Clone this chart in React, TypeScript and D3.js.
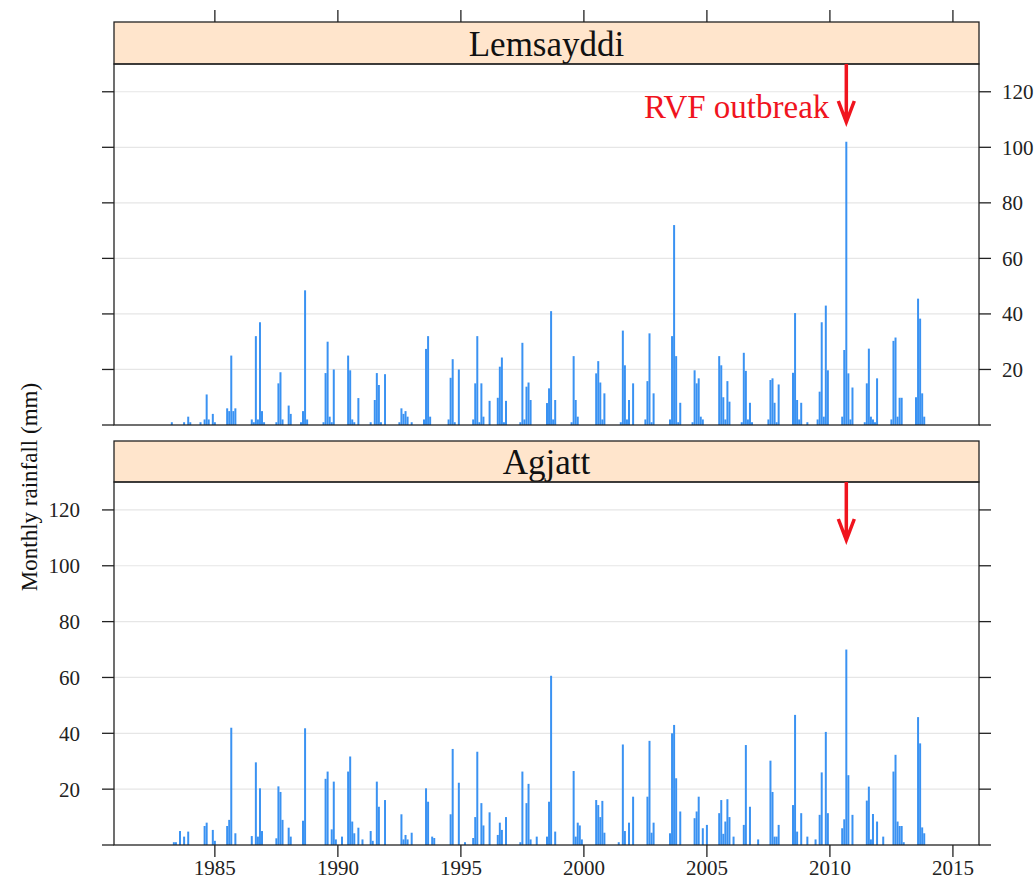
import React, { useEffect, useRef } from "react";
import * as d3 from "d3";

// monthly rainfall (mm), one row per year from 1983, Jan..Dec
const firstYear = 1983;

const lemsayddi: number[][] = [
  [0, 0, 0, 1, 0, 0, 0, 0, 0, 1, 0, 3],
  [1, 0, 0, 0, 0, 1, 0, 2, 11, 2, 0, 4],
  [1, 0, 0, 0, 0, 0, 6, 5, 25, 5, 6, 0],
  [0, 0, 0, 0, 0, 0, 2, 1, 32, 2, 37, 5],
  [1, 0, 0, 0, 0, 0, 1, 15, 19, 2, 0, 0],
  [7, 4, 0, 0, 0, 0, 1, 5, 48.5, 2, 0, 0],
  [0, 0, 0, 0, 0, 1, 18.7, 30, 3, 1, 20, 0],
  [0, 0, 0, 0, 0, 25, 19.7, 2, 1, 0, 9.7, 0],
  [0, 0, 0, 0, 1, 0, 9, 18.7, 14.4, 1, 0, 18.3],
  [0, 0, 0, 0, 0, 0, 1, 6, 4, 5, 3, 0],
  [1, 0, 0, 0, 0, 0, 2, 27.4, 32, 3, 0, 0],
  [0, 0, 0, 0, 0, 0, 2, 17, 23.7, 1, 0, 20],
  [0, 0, 0, 0, 0, 0, 2, 15, 32, 1, 15, 3],
  [0, 0, 8.7, 0, 0, 0, 9.8, 21, 24.3, 1, 8.7, 0],
  [0, 0, 0, 0, 0, 1, 29.6, 2, 13.8, 15.3, 9, 0],
  [0, 0, 0, 0, 0, 0, 7.9, 13.2, 41, 2, 9, 0],
  [0, 0, 0, 0, 0, 0, 1, 24.8, 9, 3, 0, 0],
  [0, 0, 0, 0, 0, 0, 18.6, 23, 15.3, 2, 11.4, 0],
  [0, 0, 0, 0, 0, 0, 1, 34, 21.5, 2, 9, 0],
  [15, 0, 0, 0, 0, 0, 2, 15.8, 33, 1, 11.4, 0],
  [0, 0, 0, 0, 0, 0, 2, 32, 72, 24.8, 1, 8],
  [0, 0, 0, 0, 0, 1, 19.7, 15, 16.8, 3, 2, 0],
  [0, 0, 0, 0, 0, 0, 24.8, 21.5, 10, 2, 15.8, 8.4],
  [0, 0, 0, 0, 0, 1, 26, 19.5, 2, 8, 1, 0],
  [0, 0, 0, 0, 0, 0, 2, 16.2, 16.8, 8, 1, 14.6],
  [0, 0, 0, 0, 0, 0, 18.8, 40.3, 9, 2, 8, 0],
  [0, 1, 0, 0, 0, 0, 2, 12, 37, 3, 43, 19.7],
  [0, 0, 0, 0, 0, 0, 3, 27, 102, 18.6, 2, 13.5],
  [0, 0, 0, 0, 0, 1, 15, 27.5, 3, 2, 1, 16.8],
  [0, 0, 0, 0, 0, 0, 2, 30.3, 31.5, 3, 9.8, 9.8],
  [0, 0, 0, 0, 0, 0, 10, 45.5, 38.3, 11.4, 3, 0],
];

const agjatt: number[][] = [
  [0, 0, 0, 0, 1, 1, 0, 5, 0, 3, 0, 4.8],
  [0, 0, 0, 0, 0, 0, 0, 6.8, 8, 0, 0, 5.4],
  [1.5, 0, 0, 0, 0, 0, 6.8, 9, 42, 0, 4.2, 0],
  [0, 0, 0, 0, 0, 0, 3.2, 0, 29.6, 3, 20.3, 5],
  [0, 0, 0, 0, 0, 0, 2.4, 21, 19, 9, 0, 0],
  [6.2, 3, 0, 0, 0, 0, 0, 8.7, 41.8, 0, 0, 0],
  [0, 0, 0, 0, 0, 0, 23.7, 26.3, 0, 5.6, 22.7, 2],
  [0, 0, 3, 0, 0, 26.3, 31.7, 8.4, 4.2, 0, 6.2, 0],
  [2, 0, 0, 0, 5, 1.5, 0, 22.7, 13.7, 0, 0, 16.1],
  [0, 0, 0, 0, 0, 0, 0, 11, 2, 3.6, 2, 0],
  [4.4, 0, 0, 0, 0, 0, 0, 20.3, 15.5, 0, 3, 2.5],
  [0, 0, 0, 0, 0, 0, 0, 11, 34.4, 0, 0, 22.3],
  [0, 0, 1, 0, 0, 0, 2.5, 10, 33.4, 0, 15, 7],
  [0, 0, 11.7, 0, 0, 0, 3.6, 8, 5.4, 0, 10, 0],
  [0, 0, 0, 0, 0, 1, 26.3, 0, 15, 21.9, 2, 0],
  [0, 3, 0, 0, 0, 0, 3, 15.5, 60.6, 0, 4.8, 0],
  [0, 0, 0, 0, 0, 0, 0, 26.5, 3, 8, 7, 2],
  [0, 0, 0, 0, 0, 0, 16.1, 14.3, 10, 15.8, 4.4, 0],
  [0, 0, 0, 0, 0, 1, 0, 36, 5, 0, 8, 0],
  [17.3, 0, 0, 0, 0, 0, 0, 17.3, 37.3, 4.4, 8, 0],
  [0, 0, 0, 0, 0, 0, 4.2, 40, 43, 23.9, 0, 12],
  [0, 0, 0, 0, 0, 0, 9.6, 12, 17.3, 0, 6, 0],
  [7.2, 0, 0, 0, 0, 0, 11.4, 16.1, 4, 8.4, 16.4, 10],
  [0, 3, 0, 0, 0, 0, 7.2, 35.8, 0, 13.7, 0, 0],
  [0, 2, 0, 0, 0, 0, 0, 30.2, 19, 3, 3, 7.2],
  [0, 0, 0, 0, 0, 0, 14.3, 46.6, 4.8, 0, 11.4, 0],
  [0, 3, 0, 0, 0, 2, 0, 10.8, 26, 0, 40.5, 11.4],
  [0, 0, 0, 0, 0, 0, 6, 9.2, 70, 25, 0, 10.8],
  [0, 0, 0, 0, 0, 0, 15.9, 20.9, 2, 11.1, 0, 8.4],
  [0, 0, 3, 0, 0, 0, 0, 26.3, 32.3, 8.4, 6.8, 6.8],
  [1, 0, 0, 0, 0, 0, 0, 45.8, 36.4, 6.3, 4.2, 0],
];

const stationNames = ["Lemsayddi", "Agjatt"];
const yTicks = [0, 20, 40, 60, 80, 100, 120];
const xTicks = [1985, 1990, 1995, 2000, 2005, 2010, 2015];
const outbreakDate = 2010 + 8 / 12; // Sep 2010
const outbreakLabel = "RVF outbreak";

const font = "'Liberation Serif', 'Times New Roman', serif";

const App = () => {
  const svgRef = useRef<SVGSVGElement>(null);

  useEffect(() => {
    const width = 1036;
    const height = 890;
    const left = 114;
    const right = 979;
    const tick = 12;

    const panels = [
      { name: stationNames[0], data: lemsayddi, stripTop: 22, top: 64, bottom: 425, labelLeft: false },
      { name: stationNames[1], data: agjatt, stripTop: 441, top: 482, bottom: 845, labelLeft: true },
    ];

    const x = d3.scaleLinear().domain([1980.9, 2016.06]).range([left, right]);

    const svg = d3
      .select(svgRef.current)
      .attr("width", width)
      .attr("height", height)
      .attr("viewBox", [0, 0, width, height].join(" "))
      .style("font-family", font);

    svg.selectAll("*").remove();

    panels.forEach((p, pi) => {
      const y = d3.scaleLinear().domain([0, 130]).range([p.bottom, p.top]);
      const g = svg.append("g");

      // strip
      g.append("rect")
        .attr("x", left)
        .attr("y", p.stripTop)
        .attr("width", right - left)
        .attr("height", p.top - p.stripTop)
        .attr("fill", "#ffe5cc")
        .attr("stroke", "#222")
        .attr("stroke-width", 1.3);
      g.append("text")
        .attr("x", (left + right) / 2)
        .attr("y", p.top - 8)
        .attr("text-anchor", "middle")
        .attr("font-size", 35)
        .attr("fill", "#111")
        .text(p.name);

      // grid
      g.append("g")
        .selectAll("line")
        .data(yTicks.filter((d) => d > 0))
        .join("line")
        .attr("x1", left)
        .attr("x2", right)
        .attr("y1", (d) => y(d))
        .attr("y2", (d) => y(d))
        .attr("stroke", "#e6e6e6")
        .attr("stroke-width", 1.2);

      // bars
      const points = p.data.flatMap((row, i) =>
        row.map((v, m) => ({ t: firstYear + i + m / 12, v }))
      ).filter((d) => d.v > 0);
      g.append("g")
        .selectAll("line")
        .data(points)
        .join("line")
        .attr("x1", (d) => x(d.t))
        .attr("x2", (d) => x(d.t))
        .attr("y1", y(0))
        .attr("y2", (d) => y(d.v))
        .attr("stroke", "#3a92f2")
        .attr("stroke-width", 2);

      // frame
      g.append("rect")
        .attr("x", left)
        .attr("y", p.top)
        .attr("width", right - left)
        .attr("height", p.bottom - p.top)
        .attr("fill", "none")
        .attr("stroke", "#222")
        .attr("stroke-width", 1.3);

      // y ticks both sides
      const yt = g.append("g").attr("stroke", "#222").attr("stroke-width", 1.3);
      yTicks.forEach((d) => {
        yt.append("line").attr("x1", left - tick).attr("x2", left).attr("y1", y(d)).attr("y2", y(d));
        yt.append("line").attr("x1", right).attr("x2", right + tick).attr("y1", y(d)).attr("y2", y(d));
      });
      g.append("g")
        .selectAll("text")
        .data(yTicks.filter((d) => d > 0))
        .join("text")
        .attr("x", p.labelLeft ? left - tick - 22 : right + tick + 11)
        .attr("y", (d) => y(d))
        .attr("dy", "0.35em")
        .attr("text-anchor", p.labelLeft ? "end" : "start")
        .attr("font-size", 21)
        .attr("fill", "#222")
        .text((d) => d);

      // x ticks: top of first strip, bottom of last panel
      if (pi === 0) {
        g.append("g")
          .selectAll("line")
          .data(xTicks)
          .join("line")
          .attr("x1", (d) => x(d))
          .attr("x2", (d) => x(d))
          .attr("y1", p.stripTop - tick)
          .attr("y2", p.stripTop)
          .attr("stroke", "#222")
          .attr("stroke-width", 1.3);
      } else {
        g.append("g")
          .selectAll("line")
          .data(xTicks)
          .join("line")
          .attr("x1", (d) => x(d))
          .attr("x2", (d) => x(d))
          .attr("y1", p.bottom)
          .attr("y2", p.bottom + tick)
          .attr("stroke", "#222")
          .attr("stroke-width", 1.3);
        g.append("g")
          .selectAll("text")
          .data(xTicks)
          .join("text")
          .attr("x", (d) => x(d))
          .attr("y", p.bottom + tick + 18)
          .attr("text-anchor", "middle")
          .attr("font-size", 21)
          .attr("fill", "#222")
          .text((d) => d);
      }

      // outbreak arrow
      const ax = x(outbreakDate);
      const tip = p.top + 58;
      g.append("path")
        .attr("d", `M${ax},${p.top}V${tip}M${ax - 8},${tip - 21}L${ax},${tip}L${ax + 8},${tip - 21}`)
        .attr("fill", "none")
        .attr("stroke", "#f0141e")
        .attr("stroke-width", 3.5);
      if (pi === 0) {
        g.append("text")
          .attr("x", ax - 17)
          .attr("y", p.top + 54)
          .attr("text-anchor", "end")
          .attr("font-size", 33)
          .attr("fill", "#f0141e")
          .text(outbreakLabel);
      }
    });

    svg
      .append("text")
      .attr("transform", "translate(37,487) rotate(-90)")
      .attr("text-anchor", "middle")
      .attr("font-size", 23)
      .attr("fill", "#111")
      .text("Monthly rainfall (mm)");
  }, []);

  return <svg ref={svgRef} style={{ position: "absolute", left: 0, top: 0 }} />;
};

export default App;
